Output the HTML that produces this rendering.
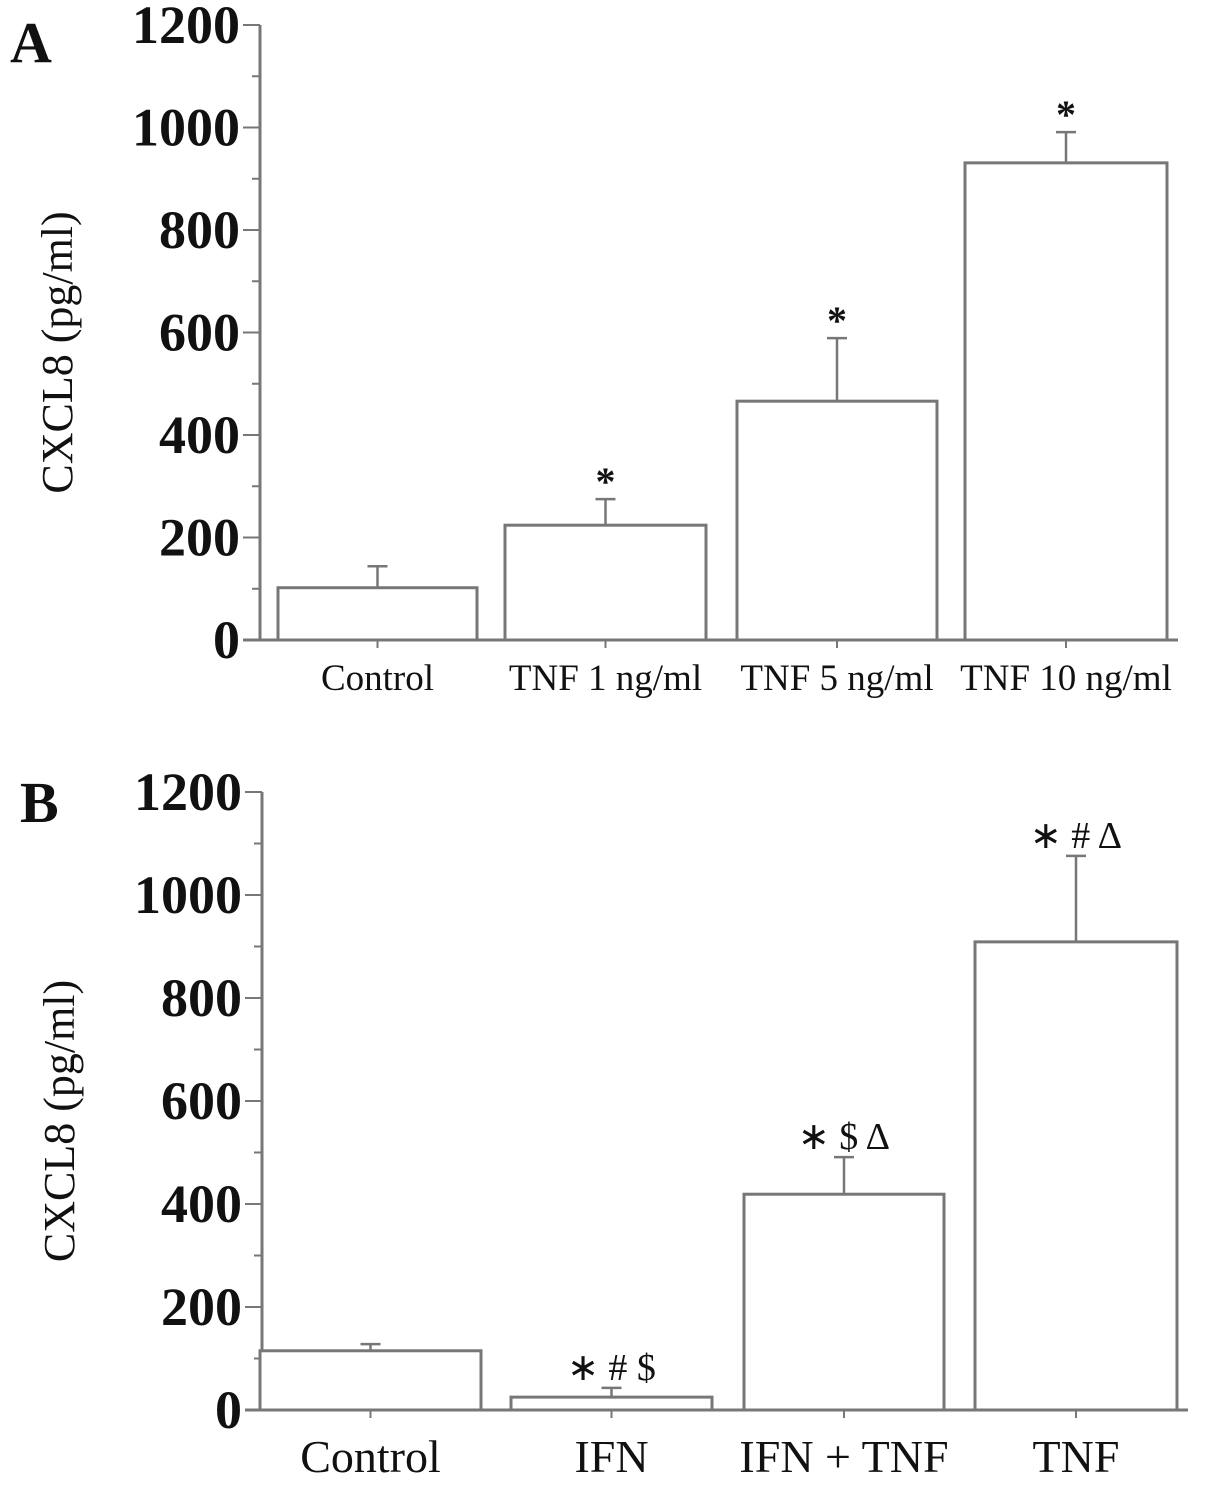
<!DOCTYPE html>
<html><head><meta charset="utf-8"><style>
body{margin:0;background:#fff}
svg{display:block}
text{font-family:"Liberation Serif",serif;fill:#111}
</style></head><body>
<svg id="s" width="1205" height="1486" xmlns="http://www.w3.org/2000/svg"></svg>
<script>
const catsA=["Control","TNF 1 ng/ml","TNF 5 ng/ml","TNF 10 ng/ml"];
const valsA=[102,224,466,931];
const errsA=[144,275,589,991];
const sigA=["","*","*","*"];
const catsB=["Control","IFN","IFN + TNF","TNF"];
const valsB=[115,25,419,909];
const errsB=[128,43,491,1076];
const sigB=["","∗ # $","∗ $ Δ","∗ # Δ"];
const yTicks=[0,200,400,600,800,1000,1200];

const NS="http://www.w3.org/2000/svg";
const svg=document.getElementById('s');
function el(t,a,txt){const e=document.createElementNS(NS,t);for(const k in a)e.setAttribute(k,a[k]);if(txt!==undefined)e.textContent=txt;svg.appendChild(e);return e;}
const G="#777";
function panel(o){
  const y=v=>o.y0-(v/1200)*(o.y0-o.y1200);
  const l=el('text',{x:o.lx,y:o.ly,'font-size':58,'font-weight':'bold'},o.letter);
  
  
  const ax=el('line',{x1:o.ax,y1:y(1200),x2:o.ax,y2:o.y0,stroke:G,'stroke-width':3});
  
  
  const xa=el('line',{x1:o.ax-17,y1:o.y0,x2:o.xend,y2:o.y0,stroke:G,'stroke-width':3});
  
  
  for(let v=0;v<=1200;v+=100){
    const major=v%200===0;
    const t=el('line',{x1:o.ax-(major?17:8),y1:y(v),x2:o.ax,y2:y(v),stroke:G,'stroke-width':2});
    
    
  }
  yTicks.forEach(v=>{
    const t=el('text',{x:o.ax-20,y:y(v)+18,'font-size':54,'font-weight':'bold','text-anchor':'end'},v);
    
    
  });
  const yt=el('text',{x:0,y:0,'font-size':44,'text-anchor':'middle',transform:`translate(${o.ax-188},${(y(0)+y(1200))/2+20}) rotate(-90)`},'CXCL8 (pg/ml)');
  
  
  o.cats.forEach((c,i)=>{
    const x0=o.bx[i][0],x1=o.bx[i][1],cx=(x0+x1)/2;
    const b=el('rect',{x:x0,y:y(o.vals[i]),width:x1-x0,height:y(0)-y(o.vals[i]),fill:'#fff',stroke:G,'stroke-width':3});
    
    
    const e=el('line',{x1:cx,y1:y(o.vals[i]),x2:cx,y2:y(o.errs[i]),stroke:G,'stroke-width':2.5});
    
    
    const ec=el('line',{x1:cx-10,y1:y(o.errs[i]),x2:cx+10,y2:y(o.errs[i]),stroke:G,'stroke-width':2.5});
    
    
    const xt=el('line',{x1:cx,y1:o.y0,x2:cx,y2:o.y0+8,stroke:G,'stroke-width':2});
    
    
    const lb=el('text',{x:cx,y:o.y0+o.labOff,'font-size':o.labSize,'text-anchor':'middle'},c);
    
    
    if(o.sig[i]){
      const s=el('text',{x:cx,y:y(o.errs[i])-o.sigOff,'font-size':o.sigSize,'font-weight':o.sigW,'text-anchor':'middle'},o.sig[i]);
      
      
    }
  });
}
panel({letter:'A',lx:10,ly:62,ax:260,y0:640,y1200:25,xend:1178,cats:catsA,vals:valsA,errs:errsA,sig:sigA,
  bx:[[278,477],[505,706],[737,937],[965,1167]],labOff:50,labSize:37,sigOff:4,sigSize:40,sigW:'bold'});
panel({letter:'B',lx:20,ly:822,ax:262,y0:1410,y1200:792,xend:1188,cats:catsB,vals:valsB,errs:errsB,sig:sigB,
  bx:[[260,481],[511,712],[744,944],[975,1177]],labOff:62,labSize:46,sigOff:8,sigSize:38,sigW:'normal'});
</script>
</body></html>
